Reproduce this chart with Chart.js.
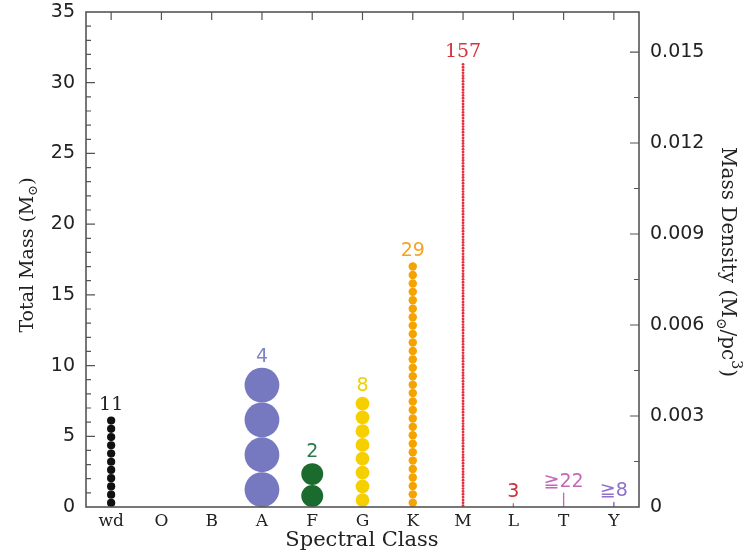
<!DOCTYPE html>
<html>
<head>
<meta charset="utf-8">
<script src="https://cdn.jsdelivr.net/npm/chart.js@4.4.1/dist/chart.umd.min.js"></script>
<style>
  html, body { margin: 0; padding: 0; background: #fff; }
</style>
</head>
<body>
<canvas id="chart" width="743" height="554"></canvas>
<script>
// spectral classes and what sits in each column
const classes     = ["wd", "O", "B", "A", "F", "G", "K", "M", "L", "T", "Y"];
const counts      = [11, 0, 0, 4, 2, 8, 29, 157, 3, 22, 8];
const totalMass   = [6.4, 0, 0, 9.85, 3.1, 7.8, 17.3, 31.4, 0.25, 1.0, 0.35]; // Msun
const countLabels = ["11", "", "", "4", "2", "8", "29", "157", "3", "≧22", "≧8"];
const dotColors   = ["#111111", "#000", "#000", "#7679c0", "#1b6a2e", "#f6cf00", "#f5a300", "#e6303e", "#cc2d3a", "#c862b6", "#8d6ccb"];
const labelColors = ["#222222", "#000", "#000", "#7f84c6", "#2a7a45", "#f0d000", "#f4a424", "#d9323f", "#c8303a", "#c566b8", "#8f70cc"];
const serifLabels = ["wd", "M"];

const volume = 4 / 3 * Math.PI * 8 * 8 * 8;   // 8 pc sphere, pc^3
const massMax = 35;
const densityMax = massMax / volume;

const FRAME = "#555555";

// one dataset per class: a stack of circles, each as tall as one object's mass
function dotRadius(ctx) {
  const s = ctx.chart.scales.y;
  const m = ctx.raw ? ctx.raw.m : 0;
  return Math.max(0.7, (s.getPixelForValue(0) - s.getPixelForValue(m)) / 2);
}

const datasets = classes.map((c, i) => {
  const n = counts[i];
  const m = n ? totalMass[i] / n : 0;
  const pts = [];
  for (let k = 0; k < n; k++) pts.push({ x: c, y: m * (k + 0.5), m: m });
  return {
    label: c,
    data: pts,
    backgroundColor: dotColors[i],
    borderWidth: 0,
    pointRadius: dotRadius,
    pointHoverRadius: dotRadius
  };
});

function drawParts(ctx, parts, size, family) {
  // parts: [text, kind] kind: 0 normal, -1 subscript, 1 superscript
  let w = 0;
  parts.forEach(p => {
    ctx.font = (p[1] ? Math.round(size * 0.7) : size) + "px " + family;
    w += ctx.measureText(p[0]).width;
  });
  let x = -w / 2;
  parts.forEach(p => {
    ctx.font = (p[1] ? Math.round(size * 0.7) : size) + "px " + family;
    const dy = p[1] === -1 ? size * 0.3 : p[1] === 1 ? -size * 0.45 : 0;
    ctx.fillText(p[0], x, dy);
    x += ctx.measureText(p[0]).width;
  });
}

const framePlugin = {
  id: "frame",
  afterDatasetsDraw(chart) {
    const ctx = chart.ctx;
    const a = chart.chartArea;
    const x = chart.scales.x, y = chart.scales.y, y2 = chart.scales.y2;
    ctx.save();
    ctx.strokeStyle = FRAME;
    ctx.lineWidth = 1.6;
    ctx.strokeRect(a.left, a.top, a.right - a.left, a.bottom - a.top);
    ctx.lineWidth = 1.2;
    ctx.beginPath();
    for (let v = 1; v < massMax; v++) {
      const py = y.getPixelForValue(v);
      const len = v % 5 === 0 ? 9 : 5;
      ctx.moveTo(a.left, py); ctx.lineTo(a.left + len, py);
    }
    for (let k = 1; k * 0.0015 < densityMax; k++) {
      const py = y2.getPixelForValue(k * 0.0015);
      const len = k % 2 === 0 ? 9 : 5;
      ctx.moveTo(a.right, py); ctx.lineTo(a.right - len, py);
    }
    classes.forEach((c, i) => {
      const px = x.getPixelForValue(i);
      ctx.moveTo(px, a.top); ctx.lineTo(px, a.top + 8);
    });
    ctx.stroke();

    // counts above each stack
    ctx.textAlign = "center";
    ctx.textBaseline = "alphabetic";
    classes.forEach((c, i) => {
      if (!countLabels[i]) return;
      const px = x.getPixelForValue(i);
      const py = y.getPixelForValue(totalMass[i]) - 6;
      ctx.fillStyle = labelColors[i];
      ctx.font = serifLabels.includes(c) ? "19px 'DejaVu Serif'" : "19px 'DejaVu Sans'";
      ctx.fillText(countLabels[i], px, py);
    });

    // axis titles
    ctx.fillStyle = "#222";
    ctx.textAlign = "left";
    ctx.save();
    ctx.translate(28, 255);
    ctx.rotate(-Math.PI / 2);
    ctx.textBaseline = "middle";
    drawParts(ctx, [["Total Mass (M", 0], ["⊙", -1], [")", 0]], 19, "'DejaVu Serif'");
    ctx.restore();

    ctx.save();
    ctx.translate(727, 262);
    ctx.rotate(Math.PI / 2);
    ctx.textBaseline = "middle";
    drawParts(ctx, [["Mass Density (M", 0], ["⊙", -1], ["/pc", 0], ["3", 1], [")", 0]], 20, "'DejaVu Serif'");
    ctx.restore();

    ctx.save();
    ctx.translate(362, 541);
    ctx.textBaseline = "middle";
    drawParts(ctx, [["Spectral Class", 0]], 21, "'DejaVu Serif'");
    ctx.restore();
    ctx.restore();
  }
};

function fixVertical(width) {
  return s => { s.width = width; s.paddingTop = 0; s.paddingBottom = 0; };
}

new Chart(document.getElementById("chart"), {
  type: "scatter",
  data: { datasets: datasets },
  options: {
    responsive: false,
    animation: false,
    layout: { padding: { top: 12, left: 0, right: 0, bottom: 0 } },
    plugins: { legend: { display: false }, tooltip: { enabled: false } },
    scales: {
      x: {
        type: "category",
        labels: classes,
        offset: true,
        grid: { display: false, drawTicks: false },
        border: { display: false },
        ticks: { font: { family: "'DejaVu Serif'", size: 17 }, color: "#222", padding: 4, autoSkip: false, maxRotation: 0 },
        afterFit: s => { s.height = 47; s.paddingLeft = 0; s.paddingRight = 0; }
      },
      y: {
        position: "left",
        min: 0,
        max: massMax,
        grid: { display: false, drawTicks: false },
        border: { display: false },
        ticks: { stepSize: 5, font: { family: "'DejaVu Sans'", size: 19 }, color: "#222", padding: 11 },
        afterFit: fixVertical(86)
      },
      y2: {
        position: "right",
        min: 0,
        max: densityMax,
        grid: { display: false, drawTicks: false },
        border: { display: false },
        ticks: {
          stepSize: 0.003,
          includeBounds: false,
          font: { family: "'DejaVu Sans'", size: 19 },
          color: "#222",
          padding: 11,
          callback: v => (Math.abs(v) < 1e-9 ? "0" : v.toFixed(3))
        },
        afterFit: fixVertical(104)
      }
    }
  },
  plugins: [framePlugin]
});
</script>
</body>
</html>
